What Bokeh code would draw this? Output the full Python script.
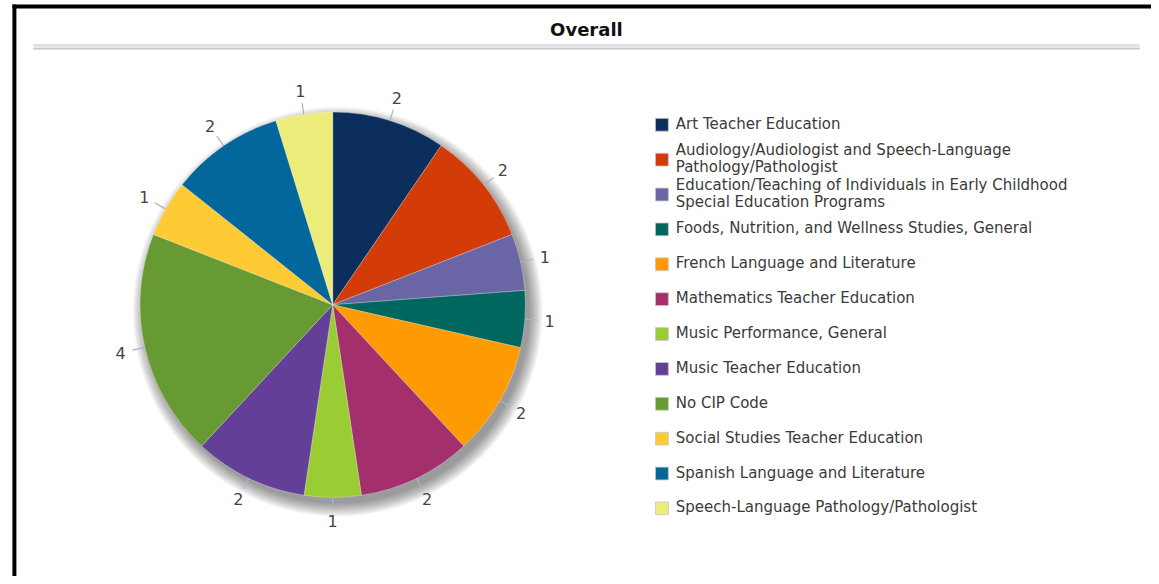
import math
import textwrap
from bokeh.plotting import figure
from bokeh.models import Range1d, ColumnDataSource
from bokeh.core.properties import value
from bokeh.embed import file_html
from bokeh.resources import INLINE

title_text = "Overall"
categories = [
    "Art Teacher Education",
    "Audiology/Audiologist and Speech-Language Pathology/Pathologist",
    "Education/Teaching of Individuals in Early Childhood Special Education Programs",
    "Foods, Nutrition, and Wellness Studies, General",
    "French Language and Literature",
    "Mathematics Teacher Education",
    "Music Performance, General",
    "Music Teacher Education",
    "No CIP Code",
    "Social Studies Teacher Education",
    "Spanish Language and Literature",
    "Speech-Language Pathology/Pathologist",
]
counts = [2, 2, 1, 1, 2, 2, 1, 2, 4, 1, 2, 1]
colors = ["#0b2e5c", "#d33c08", "#6a66a6", "#00675f", "#fe9a02", "#a3306c",
          "#9acc33", "#643f98", "#679a33", "#fecb34", "#03679b", "#ecec7a"]

W, H = 1151, 576
FONT = "DejaVu Sans"

def Y(py):
    return 584 - py

p = figure(width=W, height=H, x_range=Range1d(0, 1159), y_range=Range1d(0, 584),
           output_backend="svg", toolbar_location=None, min_border=0)
p.axis.visible = False
p.grid.visible = False
p.outline_line_color = None
p.background_fill_color = "white"
p.border_fill_color = "white"

# black frame (top and left)
p.quad(left=[12], right=[1159], top=[Y(4)], bottom=[Y(8)], fill_color="black", line_color=None)
p.quad(left=[12], right=[16], top=[Y(4)], bottom=[Y(584)], fill_color="black", line_color=None)

# title and rule
p.text(x=[590], y=[Y(29)], text=[title_text], text_font=value(FONT), text_font_style="bold",
       text_font_size="18px", text_align="center", text_baseline="middle", text_color="#111111")
p.quad(left=[33], right=[1147], top=[Y(44.5)], bottom=[Y(49.5)], fill_color="#e6e6ec", line_color=None)
p.segment(x0=[33], y0=[Y(45)], x1=[1147], y1=[Y(45)], line_color="#d2d2da", line_width=1)
p.segment(x0=[33], y0=[Y(49)], x1=[1147], y1=[Y(49)], line_color="#b9b9c4", line_width=1)

# pie geometry
cx, cy, R = 334.5, 308.5, 194
total = sum(counts)
starts, ends, mids = [], [], []
cum = 0
for c in counts:
    a0 = math.pi / 2 - 2 * math.pi * cum / total
    cum += c
    a1 = math.pi / 2 - 2 * math.pi * cum / total
    starts.append(a0)
    ends.append(a1)
    mids.append((a0 + a1) / 2)

# shadow
for k in range(13, 0, -1):
    p.circle(x=[cx + 5], y=[Y(cy + 7)], radius=R - 2 + k * 1.1, fill_color="black",
             fill_alpha=0.035, line_color=None)

src = ColumnDataSource(dict(x=[cx] * len(counts), y=[Y(cy)] * len(counts), start=starts, end=ends,
                            color=colors, name=categories, count=counts))
p.wedge(x="x", y="y", radius=R, start_angle="start", end_angle="end", direction="clock",
        fill_color="color", line_color="white", line_alpha=0.35, line_width=0.8, source=src)

# data labels with leader lines
lx0 = [cx + (R + 1) * math.cos(m) for m in mids]
ly0 = [Y(cy) + (R + 1) * math.sin(m) for m in mids]
lx1 = [cx + (R + 13) * math.cos(m) for m in mids]
ly1 = [Y(cy) + (R + 13) * math.sin(m) for m in mids]
p.segment(x0=lx0, y0=ly0, x1=lx1, y1=ly1, line_color="#aeb2c6", line_width=1.2)
tx = [cx + (R + 25) * math.cos(m) for m in mids]
ty = [Y(cy) + (R + 25) * math.sin(m) for m in mids]
p.text(x=tx, y=ty, text=[str(c) for c in counts], text_font=value(FONT), text_font_size="16px",
       text_align="center", text_baseline="middle", text_color="#444444")

# legend
sq_x, txt_x = 666, 680
y_first, step, lh = 125, 35.36, 17
sqx, sqy, lt_x, lt_y, lt_t = [], [], [], [], []
for i, name in enumerate(categories):
    yc = y_first + i * step
    sqx.append(sq_x)
    sqy.append(Y(yc + 1))
    lines = textwrap.wrap(name, 52, break_on_hyphens=False)
    n = len(lines)
    for j, ln in enumerate(lines):
        lt_x.append(txt_x)
        lt_y.append(Y(yc + (j - (n - 1) / 2) * lh))
        lt_t.append(ln)
p.rect(x=sqx, y=sqy, width=13, height=13, fill_color=colors, line_color="#c8c8c8", line_width=0.8)
p.text(x=lt_x, y=lt_y, text=lt_t, text_font=value(FONT), text_font_size="15px",
       text_align="left", text_baseline="middle", text_color="#3a3a3a")

open("out.html", "w").write(file_html(p, INLINE))
